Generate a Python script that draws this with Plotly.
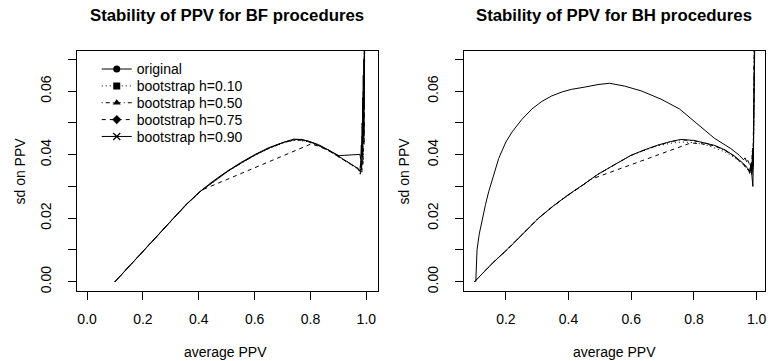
import plotly.graph_objects as go

W, H = 770, 361
FONT = "Liberation Sans, Arial, Helvetica, sans-serif"

# ---------------- data: left panel (BF procedures) ----------------
bf_orig_x = [0.100, 0.120, 0.160, 0.200, 0.250, 0.300, 0.350, 0.400, 0.450, 0.500, 0.550, 0.600, 0.650, 0.700,
             0.740, 0.770, 0.800, 0.850, 0.902, 0.977, 0.980, 0.982, 0.984, 0.985, 0.986, 0.987, 0.988, 0.989,
             0.990, 0.991, 0.992, 0.993]
bf_orig_y = [0.0000, 0.0019, 0.0057, 0.0096, 0.0144, 0.0192, 0.0239, 0.0281, 0.0316, 0.0347, 0.0375, 0.0400, 0.0422,
             0.0438, 0.0449, 0.0448, 0.0440, 0.0421, 0.0397, 0.0401, 0.0385, 0.0430, 0.0395, 0.0500, 0.0420, 0.0580,
             0.0450, 0.0650, 0.0480, 0.0700, 0.0550, 0.0760]

bf_h10_x = [0.100, 0.130, 0.170, 0.210, 0.260, 0.310, 0.360, 0.410, 0.460, 0.510, 0.560, 0.610, 0.660, 0.710,
            0.750, 0.790, 0.830, 0.870, 0.910, 0.940, 0.960, 0.972, 0.978, 0.981, 0.984, 0.986, 0.988, 0.990,
            0.992, 0.994]
bf_h10_y = [0.0000, 0.0028, 0.0066, 0.0104, 0.0152, 0.0200, 0.0246, 0.0287, 0.0320, 0.0351, 0.0378, 0.0402, 0.0423,
            0.0439, 0.0446, 0.0441, 0.0428, 0.0410, 0.0388, 0.0371, 0.0360, 0.0353, 0.0340, 0.0372, 0.0348, 0.0415,
            0.0375, 0.0520, 0.0440, 0.0740]

bf_h50_x = [0.100, 0.125, 0.165, 0.205, 0.255, 0.305, 0.355, 0.405, 0.455, 0.505, 0.555, 0.605, 0.655, 0.705,
            0.745, 0.785, 0.825, 0.865, 0.905, 0.935, 0.958, 0.970, 0.977, 0.980, 0.983, 0.985, 0.987, 0.989,
            0.991, 0.993]
bf_h50_y = [0.0000, 0.0024, 0.0062, 0.0100, 0.0148, 0.0196, 0.0243, 0.0284, 0.0318, 0.0349, 0.0376, 0.0401, 0.0422,
            0.0439, 0.0448, 0.0443, 0.0431, 0.0414, 0.0392, 0.0375, 0.0363, 0.0357, 0.0345, 0.0380, 0.0352, 0.0440,
            0.0390, 0.0560, 0.0460, 0.0750]

bf_h75_x = [0.100, 0.125, 0.165, 0.205, 0.255, 0.305, 0.355, 0.405, 0.420, 0.800, 0.830, 0.870, 0.910, 0.940,
            0.962, 0.973, 0.978, 0.981, 0.984, 0.986, 0.988, 0.990, 0.992, 0.994]
bf_h75_y = [0.0000, 0.0024, 0.0062, 0.0100, 0.0148, 0.0196, 0.0243, 0.0284, 0.0292, 0.0433, 0.0427, 0.0410, 0.0389,
            0.0372, 0.0360, 0.0352, 0.0338, 0.0368, 0.0345, 0.0425, 0.0370, 0.0540, 0.0430, 0.0760]

bf_h90_x = [0.100, 0.128, 0.168, 0.208, 0.258, 0.308, 0.358, 0.408, 0.458, 0.508, 0.558, 0.608, 0.658, 0.708,
            0.748, 0.788, 0.828, 0.868, 0.908, 0.938, 0.959, 0.971, 0.977, 0.981, 0.983, 0.985, 0.987, 0.989,
            0.991, 0.993]
bf_h90_y = [0.0000, 0.0026, 0.0064, 0.0102, 0.0150, 0.0198, 0.0245, 0.0286, 0.0319, 0.0350, 0.0377, 0.0402, 0.0423,
            0.0440, 0.0448, 0.0444, 0.0432, 0.0413, 0.0391, 0.0374, 0.0362, 0.0356, 0.0348, 0.0385, 0.0355, 0.0460,
            0.0400, 0.0600, 0.0470, 0.0760]

# ---------------- data: right panel (BH procedures) ----------------
bh_orig_x = [0.104, 0.105, 0.108, 0.115, 0.125, 0.135, 0.145, 0.160, 0.177, 0.200, 0.220, 0.250, 0.283, 0.315,
             0.346, 0.380, 0.410, 0.452, 0.494, 0.531, 0.579, 0.632, 0.695, 0.754, 0.812, 0.865, 0.918, 0.945,
             0.958, 0.963, 0.968, 0.972, 0.976, 0.980, 0.984, 0.988, 0.990, 0.992, 0.994]
bh_orig_y = [0.0000, 0.0060, 0.0101, 0.0150, 0.0200, 0.0243, 0.0283, 0.0335, 0.0388, 0.0440, 0.0472, 0.0510, 0.0544,
             0.0568, 0.0585, 0.0598, 0.0606, 0.0613, 0.0621, 0.0625, 0.0616, 0.0601, 0.0575, 0.0544, 0.0497, 0.0452,
             0.0419, 0.0398, 0.0384, 0.0390, 0.0378, 0.0382, 0.0372, 0.0368, 0.0345, 0.0300, 0.0420, 0.0550, 0.0750]

bh_h10_x = [0.100, 0.130, 0.160, 0.209, 0.255, 0.304, 0.350, 0.399, 0.450, 0.494, 0.550, 0.600, 0.645, 0.685,
            0.725, 0.759, 0.801, 0.840, 0.870, 0.900, 0.930, 0.958, 0.972, 0.978, 0.982, 0.985, 0.987, 0.989,
            0.991, 0.993]
bh_h10_y = [0.0000, 0.0031, 0.0061, 0.0106, 0.0153, 0.0200, 0.0237, 0.0273, 0.0307, 0.0338, 0.0370, 0.0398, 0.0415,
            0.0428, 0.0436, 0.0440, 0.0438, 0.0430, 0.0420, 0.0408, 0.0390, 0.0368, 0.0352, 0.0340, 0.0362, 0.0336,
            0.0390, 0.0355, 0.0470, 0.0730]

bh_h50_x = [0.100, 0.128, 0.158, 0.207, 0.253, 0.302, 0.348, 0.397, 0.448, 0.492, 0.548, 0.598, 0.643, 0.683,
            0.723, 0.757, 0.799, 0.838, 0.868, 0.898, 0.928, 0.957, 0.971, 0.977, 0.981, 0.984, 0.986, 0.988,
            0.990, 0.992]
bh_h50_y = [0.0000, 0.0029, 0.0059, 0.0104, 0.0151, 0.0198, 0.0236, 0.0272, 0.0306, 0.0337, 0.0369, 0.0397, 0.0415,
            0.0429, 0.0440, 0.0447, 0.0444, 0.0436, 0.0427, 0.0414, 0.0395, 0.0372, 0.0356, 0.0345, 0.0372, 0.0340,
            0.0410, 0.0360, 0.0500, 0.0740]

bh_h75_x = [0.100, 0.130, 0.160, 0.209, 0.255, 0.304, 0.350, 0.399, 0.450, 0.470, 0.790, 0.830, 0.865, 0.900,
            0.930, 0.958, 0.972, 0.978, 0.982, 0.985, 0.987, 0.989, 0.991, 0.993]
bh_h75_y = [0.0000, 0.0031, 0.0061, 0.0106, 0.0153, 0.0200, 0.0237, 0.0273, 0.0307, 0.0322, 0.0437, 0.0434, 0.0428,
            0.0414, 0.0394, 0.0370, 0.0355, 0.0343, 0.0368, 0.0338, 0.0400, 0.0358, 0.0490, 0.0740]

bh_h90_x = [0.100, 0.129, 0.159, 0.208, 0.254, 0.303, 0.349, 0.398, 0.449, 0.493, 0.549, 0.599, 0.644, 0.684,
            0.724, 0.758, 0.800, 0.839, 0.867, 0.899, 0.929, 0.959, 0.973, 0.979, 0.983, 0.985, 0.987, 0.989,
            0.991, 0.993]
bh_h90_y = [0.0000, 0.0030, 0.0060, 0.0105, 0.0152, 0.0199, 0.0237, 0.0273, 0.0307, 0.0338, 0.0370, 0.0398, 0.0416,
            0.0430, 0.0441, 0.0448, 0.0445, 0.0437, 0.0429, 0.0415, 0.0396, 0.0371, 0.0355, 0.0344, 0.0375, 0.0342,
            0.0420, 0.0365, 0.0510, 0.0740]

series_names = ["original", "bootstrap h=0.10", "bootstrap h=0.50", "bootstrap h=0.75", "bootstrap h=0.90"]
line_dashes = ["solid", "1px,3px", "1px,3px,4px,3px", "4px,4px", "solid"]
legend_symbols = ["circle", "square", "triangle-up", "diamond", "x-thin-open"]

bf_data = [(bf_orig_x, bf_orig_y), (bf_h10_x, bf_h10_y), (bf_h50_x, bf_h50_y), (bf_h75_x, bf_h75_y), (bf_h90_x, bf_h90_y)]
bh_data = [(bh_orig_x, bh_orig_y), (bh_h10_x, bh_h10_y), (bh_h50_x, bh_h50_y), (bh_h75_x, bh_h75_y), (bh_h90_x, bh_h90_y)]

x_ticks_left = [0.0, 0.2, 0.4, 0.6, 0.8, 1.0]
x_ticks_right = [0.2, 0.4, 0.6, 0.8, 1.0]
y_ticks = [0.00, 0.01, 0.02, 0.03, 0.04, 0.05, 0.06, 0.07]
y_ticktext = ["0.00", "", "0.02", "", "0.04", "", "0.06", ""]

fig = go.Figure()

for (x, y), dash in zip(bf_data, line_dashes):
    fig.add_trace(go.Scatter(x=x, y=y, mode="lines", line=dict(color="black", width=1, dash=dash),
                             showlegend=False, xaxis="x", yaxis="y", hoverinfo="skip"))
for (x, y), dash in zip(bh_data, line_dashes):
    fig.add_trace(go.Scatter(x=x, y=y, mode="lines", line=dict(color="black", width=1, dash=dash),
                             showlegend=False, xaxis="x2", yaxis="y2", hoverinfo="skip"))

# legend entries, one legend per entry to mimic R's spacing
leg_y_px = [70, 87, 104, 121, 138]
for i, (name, dash, sym) in enumerate(zip(series_names, line_dashes, legend_symbols)):
    lname = "legend" if i == 0 else f"legend{i + 1}"
    marker = dict(symbol=sym, size=7, color="black", line=dict(color="black", width=1.2 if sym.startswith("x") else 0))
    fig.add_trace(go.Scatter(x=[None], y=[None], mode="lines+markers", name=name,
                             line=dict(color="black", width=1, dash=dash), marker=marker,
                             showlegend=True, legend=lname, xaxis="x", yaxis="y"))

legend_common = dict(x=97 / W, xanchor="left", yanchor="middle", bgcolor="rgba(0,0,0,0)",
                     borderwidth=0, font=dict(family=FONT, size=14, color="black"))
legends = {}
for i, yp in enumerate(leg_y_px):
    lname = "legend" if i == 0 else f"legend{i + 1}"
    legends[lname] = dict(y=1 - yp / H, **legend_common)

axis_common = dict(showgrid=False, zeroline=False, showline=True, mirror=True, linecolor="black", linewidth=1,
                   ticks="outside", ticklen=8, tickwidth=1, tickcolor="black",
                   tickfont=dict(family=FONT, size=14, color="black"))

y_dom = [1 - 293 / H, 1 - 51 / H]

fig.update_layout(
    width=W, height=H, margin=dict(l=0, r=0, t=0, b=0),
    paper_bgcolor="white", plot_bgcolor="white",
    xaxis=dict(domain=[77 / W, 379 / W], range=[-0.0368, 1.0418], tickvals=x_ticks_left,
               ticktext=[f"{v:.1f}" for v in x_ticks_left], anchor="y", ticklabelstandoff=8, **axis_common),
    yaxis=dict(domain=y_dom, range=[-0.0028, 0.0728], tickvals=y_ticks, ticktext=y_ticktext,
               tickangle=-90, anchor="x", ticklabelstandoff=11, **axis_common),
    xaxis2=dict(domain=[465 / W, 767 / W], range=[0.0657, 1.0267], tickvals=x_ticks_right,
                ticktext=[f"{v:.1f}" for v in x_ticks_right], anchor="y2", ticklabelstandoff=8, **axis_common),
    yaxis2=dict(domain=y_dom, range=[-0.0028, 0.0728], tickvals=y_ticks, ticktext=y_ticktext,
                tickangle=-90, anchor="x2", ticklabelstandoff=11, **axis_common),
    **legends,
)

annots = [
    dict(text="<b>Stability of PPV for BF procedures</b>", x=228 / W, y=1 - 16 / H, size=16.8),
    dict(text="<b>Stability of PPV for BH procedures</b>", x=616 / W, y=1 - 16 / H, size=16.8),
    dict(text="average PPV", x=226 / W, y=1 - 355 / H, size=14),
    dict(text="average PPV", x=616 / W, y=1 - 355 / H, size=14),
    dict(text="sd on PPV", x=20 / W, y=1 - 172 / H, size=14, angle=-90),
    dict(text="sd on PPV", x=405 / W, y=1 - 172 / H, size=14, angle=-90),
]
for a in annots:
    fig.add_annotation(text=a["text"], x=a["x"], y=a["y"], xref="paper", yref="paper",
                       xanchor="center", yanchor="middle", showarrow=False, textangle=a.get("angle", 0),
                       font=dict(family=FONT, size=a["size"], color="black"))

fig.write_html("out.html")
